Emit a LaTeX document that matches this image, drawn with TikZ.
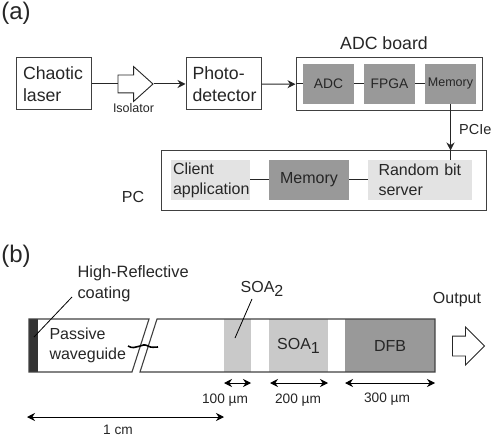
\documentclass[tikz,border=0pt]{standalone}
\usepackage{fontspec}
\setmainfont{Liberation Sans}
\usetikzlibrary{arrows.meta,shapes.arrows}
\newcommand{\fsize}[2]{\fontsize{#1}{#2}\selectfont}
\newcommand{\soasub}[1]{\raisebox{-4bp}{\fsize{16bp}{16bp}#1}}
\tikzset{
  plainbox/.style={draw=black!75, line width=1bp, inner sep=0pt, text=black!85},
  darkbox/.style={fill=black!40, inner sep=0pt, minimum height=40bp, minimum width=51bp, text=black!85},
  lightbox/.style={fill=black!11, inner sep=0pt, minimum height=40bp, text=black!85, align=left},
  outarrow/.style={draw=black!85, line width=0.9bp, shape=single arrow, inner xsep=0pt, shape border rotate=0},
  dimlabel/.style={font=\fsize{13.7bp}{16bp}, text=black!85, inner sep=0pt},
  wire/.style={draw=black!85, line width=1bp},
  dimarrow/.style={draw=black, line width=0.9bp, <->},
}
\begin{document}
\begin{tikzpicture}[x=1bp,y=-1bp,>={Stealth[length=8bp,width=8bp]}]
\useasboundingbox (0,0) rectangle (491,437);
\node[text=black!85, font=\fsize{24bp}{28bp}] (laba) at (16,13) {(a)};
\node[text=black!85, font=\fsize{24bp}{28bp}] (labb) at (16,256) {(b)};
% top row
\node[plainbox, minimum width=74bp, minimum height=52bp, text width=62bp, align=left, font=\fsize{17.7bp}{22bp}] (laser) at (54,84) {Chaotic\\laser};
\node[outarrow, minimum height=35bp, inner ysep=8.5bp, single arrow head extend=8.5bp, single arrow tip angle=84] (iso) at (130.5,84) {};
\node[text=black!85, font=\fsize{12.5bp}{14bp}] (isotxt) at (133.5,108) {Isolator};
\node[plainbox, minimum width=75bp, minimum height=52bp, text width=62bp, align=left, font=\fsize{17.7bp}{22bp}] (photo) at (223.5,84) {Photo-\\detector};
\node[plainbox, minimum width=186bp, minimum height=53bp] (board) at (389,84.5) {};
\node[text=black!85, font=\fsize{17.7bp}{22bp}] (boardtxt) at (384,43) {ADC board};
\node[darkbox, font=\fsize{13.8bp}{16bp}] (adc) at (328.5,84) {ADC};
\node[darkbox, font=\fsize{13.8bp}{16bp}] (fpga) at (389.5,84) {FPGA};
\node[darkbox, font=\fsize{12.5bp}{16bp}] (memb) at (450.5,84) {Memory};
\draw[wire] (laser) -- (iso);
\draw[wire, ->] (iso) -- (photo);
\draw[wire, ->] (photo) -- (board);
\draw[wire] (board.west |- adc.west) -- (adc);
\draw[wire] (adc) -- (fpga);
\draw[wire] (fpga) -- (memb);
% PC
\node[plainbox, minimum width=325bp, minimum height=60bp] (pc) at (323.5,181) {};
\node[text=black!85, font=\fsize{16bp}{20bp}] (pctxt) at (133,197) {PC};
\node[lightbox, minimum width=79bp, text width=75bp, font=\fsize{16bp}{20bp}] (client) at (210.5,180) {Client\\application};
\node[darkbox, minimum width=80bp, font=\fsize{16bp}{20bp}] (memp) at (309,180) {Memory};
\node[lightbox, minimum width=104bp, text width=83bp, font=\fsize{16bp}{20bp}] (server) at (420,180) {Random bit\\server};
\draw[wire] (client) -- (memp);
\draw[wire] (memp) -- (server);
\draw[wire, ->] (memb.south) -- (memb.south |- pc.north);
\draw[wire] (memb.south |- pc.north) -- (memb.south |- server.north);
\node[text=black!85, font=\fsize{14.5bp}{16bp}, anchor=west, inner sep=0pt] (pcie) at (459,130) {PCIe};
% laser chip
\node[fill=black!40, minimum width=90bp, minimum height=53bp, inner sep=0pt, text=black!85, font=\fsize{16bp}{20bp}] (dfb) at (390,345.5) {DFB};
\node[fill=black!21, minimum width=59bp, minimum height=53bp, inner sep=0pt, text=black!85, font=\fsize{16bp}{20bp}] (soaa) at (298.5,345.5) {SOA\soasub{1}};
\node[fill=black!21, minimum width=27bp, minimum height=53bp, inner sep=0pt] (soab) at (237.5,345.5) {};
\node[fill=black!80, minimum width=9bp, minimum height=53bp, inner sep=0pt] (coat) at (33.5,345.5) {};
\draw[draw=black!75, line width=1.1bp] (29,319) -- (149,319) -- (132,372) -- (29,372) -- cycle;
\draw[draw=black!75, line width=1.1bp] (157,319) -- (435,319) -- (435,372) -- (140,372) -- cycle;
\draw[line width=1.6bp] (128,346) .. controls (136,351) and (142,342) .. (148,346) .. controls (151,348) and (155,347) .. (158,347);
\node[text=black!85, anchor=west, align=left, font=\fsize{16bp}{20bp}] (wg) at (46,345) {Passive\\waveguide};
\node[text=black!85, anchor=west, align=left, font=\fsize{16.4bp}{21bp}] (hr) at (74,284) {High-Reflective\\coating};
\node[text=black!85, font=\fsize{16bp}{20bp}] (soabtxt) at (262,289) {SOA\soasub{2}};
\node[text=black!85, font=\fsize{16bp}{20bp}] (outtxt) at (457,300) {Output};
\node[outarrow, minimum height=32bp, inner ysep=9.5bp, single arrow head extend=9bp, single arrow tip angle=90] (out) at (463.5,346) {};
\coordinate (hrend) at (34,337);
\coordinate (hrstart) at (72,297);
\coordinate (soaend) at (235,338);
\coordinate (soastart) at (252,299);
\draw[line width=0.8bp] (hrstart) -- (hrend);
\draw[line width=0.8bp] (soastart) -- (soaend);
% sizes
\coordinate (da) at (224,383); \coordinate (db) at (251,383);
\coordinate (dc) at (270,383); \coordinate (dd) at (328,383);
\coordinate (de) at (345,383); \coordinate (df) at (435,383);
\coordinate (dg) at (27,417); \coordinate (dh) at (224,417);
\draw[dimarrow] (da) -- (db);
\draw[dimarrow] (dc) -- (dd);
\draw[dimarrow] (de) -- (df);
\draw[dimarrow] (dg) -- (dh);
\node[dimlabel] (lena) at (225,400) {100 µm};
\node[dimlabel] (lenb) at (298,400) {200 µm};
\node[dimlabel] (lenc) at (387,399) {300 µm};
\node[dimlabel] (lend) at (118,430) {1 cm};
\end{tikzpicture}
\end{document}
